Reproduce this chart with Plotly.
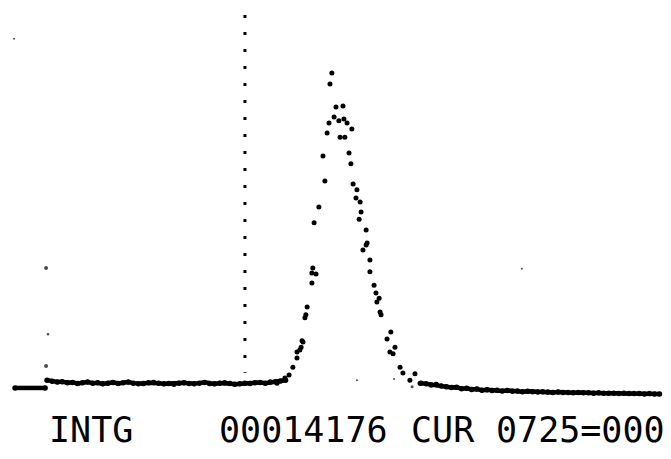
import plotly.graph_objects as go

# ---- data (channels 0..2047, counts) ----
base_stub_ch = [0, 95]
base_stub_counts = [19, 19]

left_base_ch = list(range(101, 858, 16))
left_base_counts = [40, 37, 35, 36, 33, 34, 31, 33, 35, 32, 33, 30, 32, 34, 31, 33,
                    35, 32, 30, 31, 33, 34, 32, 30, 31, 29, 32, 33, 31, 30, 32, 34,
                    31, 30, 32, 33, 31, 29, 30, 32, 31, 33, 34, 32, 35, 36, 38, 40]

peak_ch = [826, 851, 864, 876, 889, 889, 898, 902, 905, 908, 914, 917, 921, 936, 936, 939,
           949, 943, 958, 971, 977, 984, 990, 993, 999, 1006, 1012, 1021, 1025, 1034,
           1037, 1040, 1047, 1053, 1059, 1062, 1066, 1075, 1078, 1085, 1088, 1091, 1097,
           1107, 1107, 1110, 1119, 1119, 1132, 1138, 1141, 1148, 1151, 1154, 1173, 1182,
           1185, 1192, 1198, 1214, 1223, 1245, 1261, 1277]
peak_counts = [32, 46, 54, 75, 100, 116, 121, 129, 146, 143, 208, 216, 237, 302, 329, 342,
               326, 464, 507, 644, 577, 706, 733, 838, 868, 749, 776, 739, 695, 779,
               744, 695, 733, 652, 623, 717, 569, 531, 553, 474, 520, 493, 391,
               445, 404, 410, 364, 332, 296, 275, 251, 261, 224, 216, 151, 116,
               170, 111, 129, 75, 59, 40, 57, 32]

tail_ch = list(range(1280, 2048, 16))
tail_counts = [32, 30, 27, 28, 24, 22, 20, 21, 17, 18, 15, 16, 13, 14, 12, 13,
               11, 12, 10, 11, 9, 10, 9, 8, 9, 8, 7, 8, 7, 7, 6, 7,
               6, 6, 5, 6, 5, 5, 5, 4, 5, 4, 4, 4, 3, 4, 3, 3]

stray_ch = [98, 104, 98, -3, 1598, 1078, 1195, 1252]
stray_counts = [342, 164, 78, 960, 340, 40, 43, 22]
stray_sizes = [4, 2.5, 4, 2, 2, 2, 2, 3]

cursor_channel = 725
cursor_top = 1024
status_words = ["INTG", "00014176", "CUR", "0725=000"]
status_columns = [0, 8, 17, 21]

# ---- figure ----
fig = go.Figure()
for xs, ys in [(base_stub_ch, base_stub_counts), (left_base_ch, left_base_counts), (tail_ch, tail_counts)]:
    fig.add_trace(go.Scatter(x=xs, y=ys, mode="lines+markers",
                             line=dict(color="black", width=4.5),
                             marker=dict(color="black", size=5.5),
                             hoverinfo="skip", showlegend=False))

fig.add_trace(go.Scatter(x=peak_ch, y=peak_counts, mode="markers",
                         marker=dict(color="black", size=5, line=dict(width=0)),
                         showlegend=False))
fig.add_trace(go.Scatter(x=stray_ch, y=stray_counts, mode="markers",
                         marker=dict(color="black", size=stray_sizes, line=dict(width=0)),
                         showlegend=False))

fig.add_shape(type="line", x0=cursor_channel, x1=cursor_channel, y0=cursor_top, y1=60,
              line=dict(color="black", width=3, dash="3px,14px"))

pitch = 21.3
for word, col in zip(status_words, status_columns):
    fig.add_annotation(text=word, xref="paper", yref="paper", x=(47 + col * pitch) / 671,
                       y=1 - 430 / 459, xanchor="left", yanchor="middle", showarrow=False,
                       font=dict(family="DejaVu Sans Mono", size=35, color="black"))

fig.update_layout(
    width=671, height=459, margin=dict(l=0, r=0, t=0, b=0),
    plot_bgcolor="white", paper_bgcolor="white",
    xaxis=dict(range=[-47.3, 2068.2], visible=False, fixedrange=True),
    yaxis=dict(range=[-172.5, 1064.7], visible=False, fixedrange=True),
)
fig.write_html("out.html")
